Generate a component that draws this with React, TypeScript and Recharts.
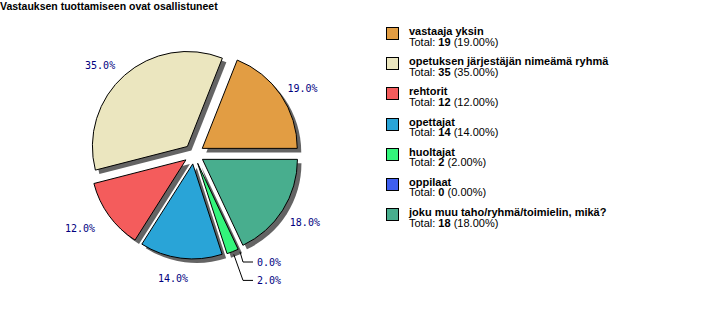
import React from "react";
import { PieChart, Pie, Cell, Legend } from "recharts";

const title = "Vastauksen tuottamiseen ovat osallistuneet";
const categories = [
  "vastaaja yksin",
  "opetuksen järjestäjän nimeämä ryhmä",
  "rehtorit",
  "opettajat",
  "huoltajat",
  "oppilaat",
  "joku muu taho/ryhmä/toimielin, mikä?",
];
const totals = [19, 35, 12, 14, 2, 0, 18];
const colors = ["#E29D43", "#EBE6BF", "#F45C5C", "#29A4D7", "#33F57B", "#3E5FF0", "#48AE8E"];

const W = 724;
const H = 326;
const CX = 194;
const CY = 154;
const R = 95;
const EXPLODE = 10;
const SHADOW = 4;
const RAD = Math.PI / 180;

const sum = totals.reduce((a, b) => a + b, 0);
const data = categories.map((name, i) => ({ name, value: totals[i] }));

// middle angle of every slice, degrees counterclockwise from 3 o'clock
const midAngles = totals.map((v, i) => {
  const before = totals.slice(0, i).reduce((a, b) => a + b, 0);
  return ((before + v / 2) / sum) * 360;
});
const offsets = midAngles.map((a) => ({ x: EXPLODE * Math.cos(a * RAD), y: -EXPLODE * Math.sin(a * RAD) }));

// tiny slices get a guide line, stacked below the pie
const smallOnes = totals
  .map((v, i) => ({ v, i }))
  .filter((d) => d.v / sum < 0.03)
  .map((d) => d.i)
  .reverse();

const labelFont = { fontFamily: "'DejaVu Sans Mono', monospace", fontSize: 10, fill: "#000080" };

function makeLabel(idx: number) {
  return (props: any) => {
    if (props.index !== idx) return null;
    const { cx, cy, midAngle, outerRadius } = props;
    const text = `${((totals[idx] / sum) * 100).toFixed(1)}%`;
    const cos = Math.cos(midAngle * RAD);
    const sin = Math.sin(midAngle * RAD);
    const rank = smallOnes.indexOf(idx);
    if (rank >= 0) {
      const sx = cx + (outerRadius + 3) * cos;
      const sy = cy - (outerRadius + 3) * sin;
      const ex = CX + 49;
      const ey = CY + R + 13 + 18.4 * rank;
      return (
        <g>
          <polyline points={`${sx},${sy} ${ex},${ey} ${ex + 10},${ey}`} fill="none" stroke="#000" strokeWidth={1} />
          <text x={ex + 14} y={ey} dominantBaseline="central" textAnchor="start" {...labelFont}>
            {text}
          </text>
        </g>
      );
    }
    const w = text.length * 6 + 8;
    const px = cx + (outerRadius + 12) * cos;
    const py = cy - (outerRadius + 12) * sin;
    const x = px - (w * (1 - cos)) / 2;
    const y = py - 5 * sin + 3;
    return (
      <text x={x} y={y} dominantBaseline="central" textAnchor="start" {...labelFont}>
        {text}
      </text>
    );
  };
}

function LegendBox() {
  return (
    <div style={{ fontFamily: "'Liberation Sans', Arial, sans-serif", fontSize: 11, color: "#000" }}>
      {categories.map((name, i) => (
        <div key={name} style={{ position: "relative", height: 30.2 }}>
          <div
            style={{
              position: "absolute",
              left: 0,
              top: 0,
              width: 11,
              height: 11,
              background: colors[i],
              border: "1px solid #000",
            }}
          />
          <div style={{ position: "absolute", left: 23, top: -1, lineHeight: "11px", fontWeight: "bold", whiteSpace: "nowrap" }}>
            {name}
          </div>
          <div style={{ position: "absolute", left: 23, top: 9.5, lineHeight: "11px", whiteSpace: "nowrap" }}>
            Total: <b>{totals[i]}</b> ({((totals[i] / sum) * 100).toFixed(2)}%)
          </div>
        </div>
      ))}
    </div>
  );
}

export default function App() {
  return (
    <div style={{ position: "absolute", left: 0, top: 0, width: W, height: H, background: "#fff" }}>
      <div
        style={{
          position: "absolute",
          left: 0,
          top: 0,
          fontFamily: "'Liberation Sans', Arial, sans-serif",
          fontSize: 10.5,
          fontWeight: "bold",
          lineHeight: "12px",
          whiteSpace: "nowrap",
          zIndex: 1,
        }}
      >
        {title}
      </div>
      <PieChart width={W} height={H} margin={{ top: 0, right: 0, bottom: 0, left: 0 }}>
        {totals.map((_, i) => (
          <Pie
            key={`shadow-${i}`}
            data={data}
            dataKey="value"
            cx={CX + offsets[i].x + SHADOW}
            cy={CY + offsets[i].y + SHADOW}
            outerRadius={R}
            innerRadius={0}
            startAngle={0}
            endAngle={360}
            isAnimationActive={false}
            labelLine={false}
            label={false}
          >
            {data.map((d, j) => (
              <Cell key={d.name} fill={j === i ? "#646464" : "none"} stroke="none" />
            ))}
          </Pie>
        ))}
        {totals.map((_, i) => (
          <Pie
            key={`slice-${i}`}
            data={data}
            dataKey="value"
            cx={CX + offsets[i].x}
            cy={CY + offsets[i].y}
            outerRadius={R}
            innerRadius={0}
            startAngle={0}
            endAngle={360}
            isAnimationActive={false}
            labelLine={false}
            label={makeLabel(i)}
          >
            {data.map((d, j) => (
              <Cell key={d.name} fill={j === i ? colors[i] : "none"} stroke={j === i ? "#000" : "none"} strokeWidth={1} />
            ))}
          </Pie>
        ))}
        <Legend
          layout="vertical"
          align="right"
          verticalAlign="top"
          content={() => <LegendBox />}
          wrapperStyle={{ left: 386, top: 27, right: "auto", width: 330 }}
        />
      </PieChart>
    </div>
  );
}
